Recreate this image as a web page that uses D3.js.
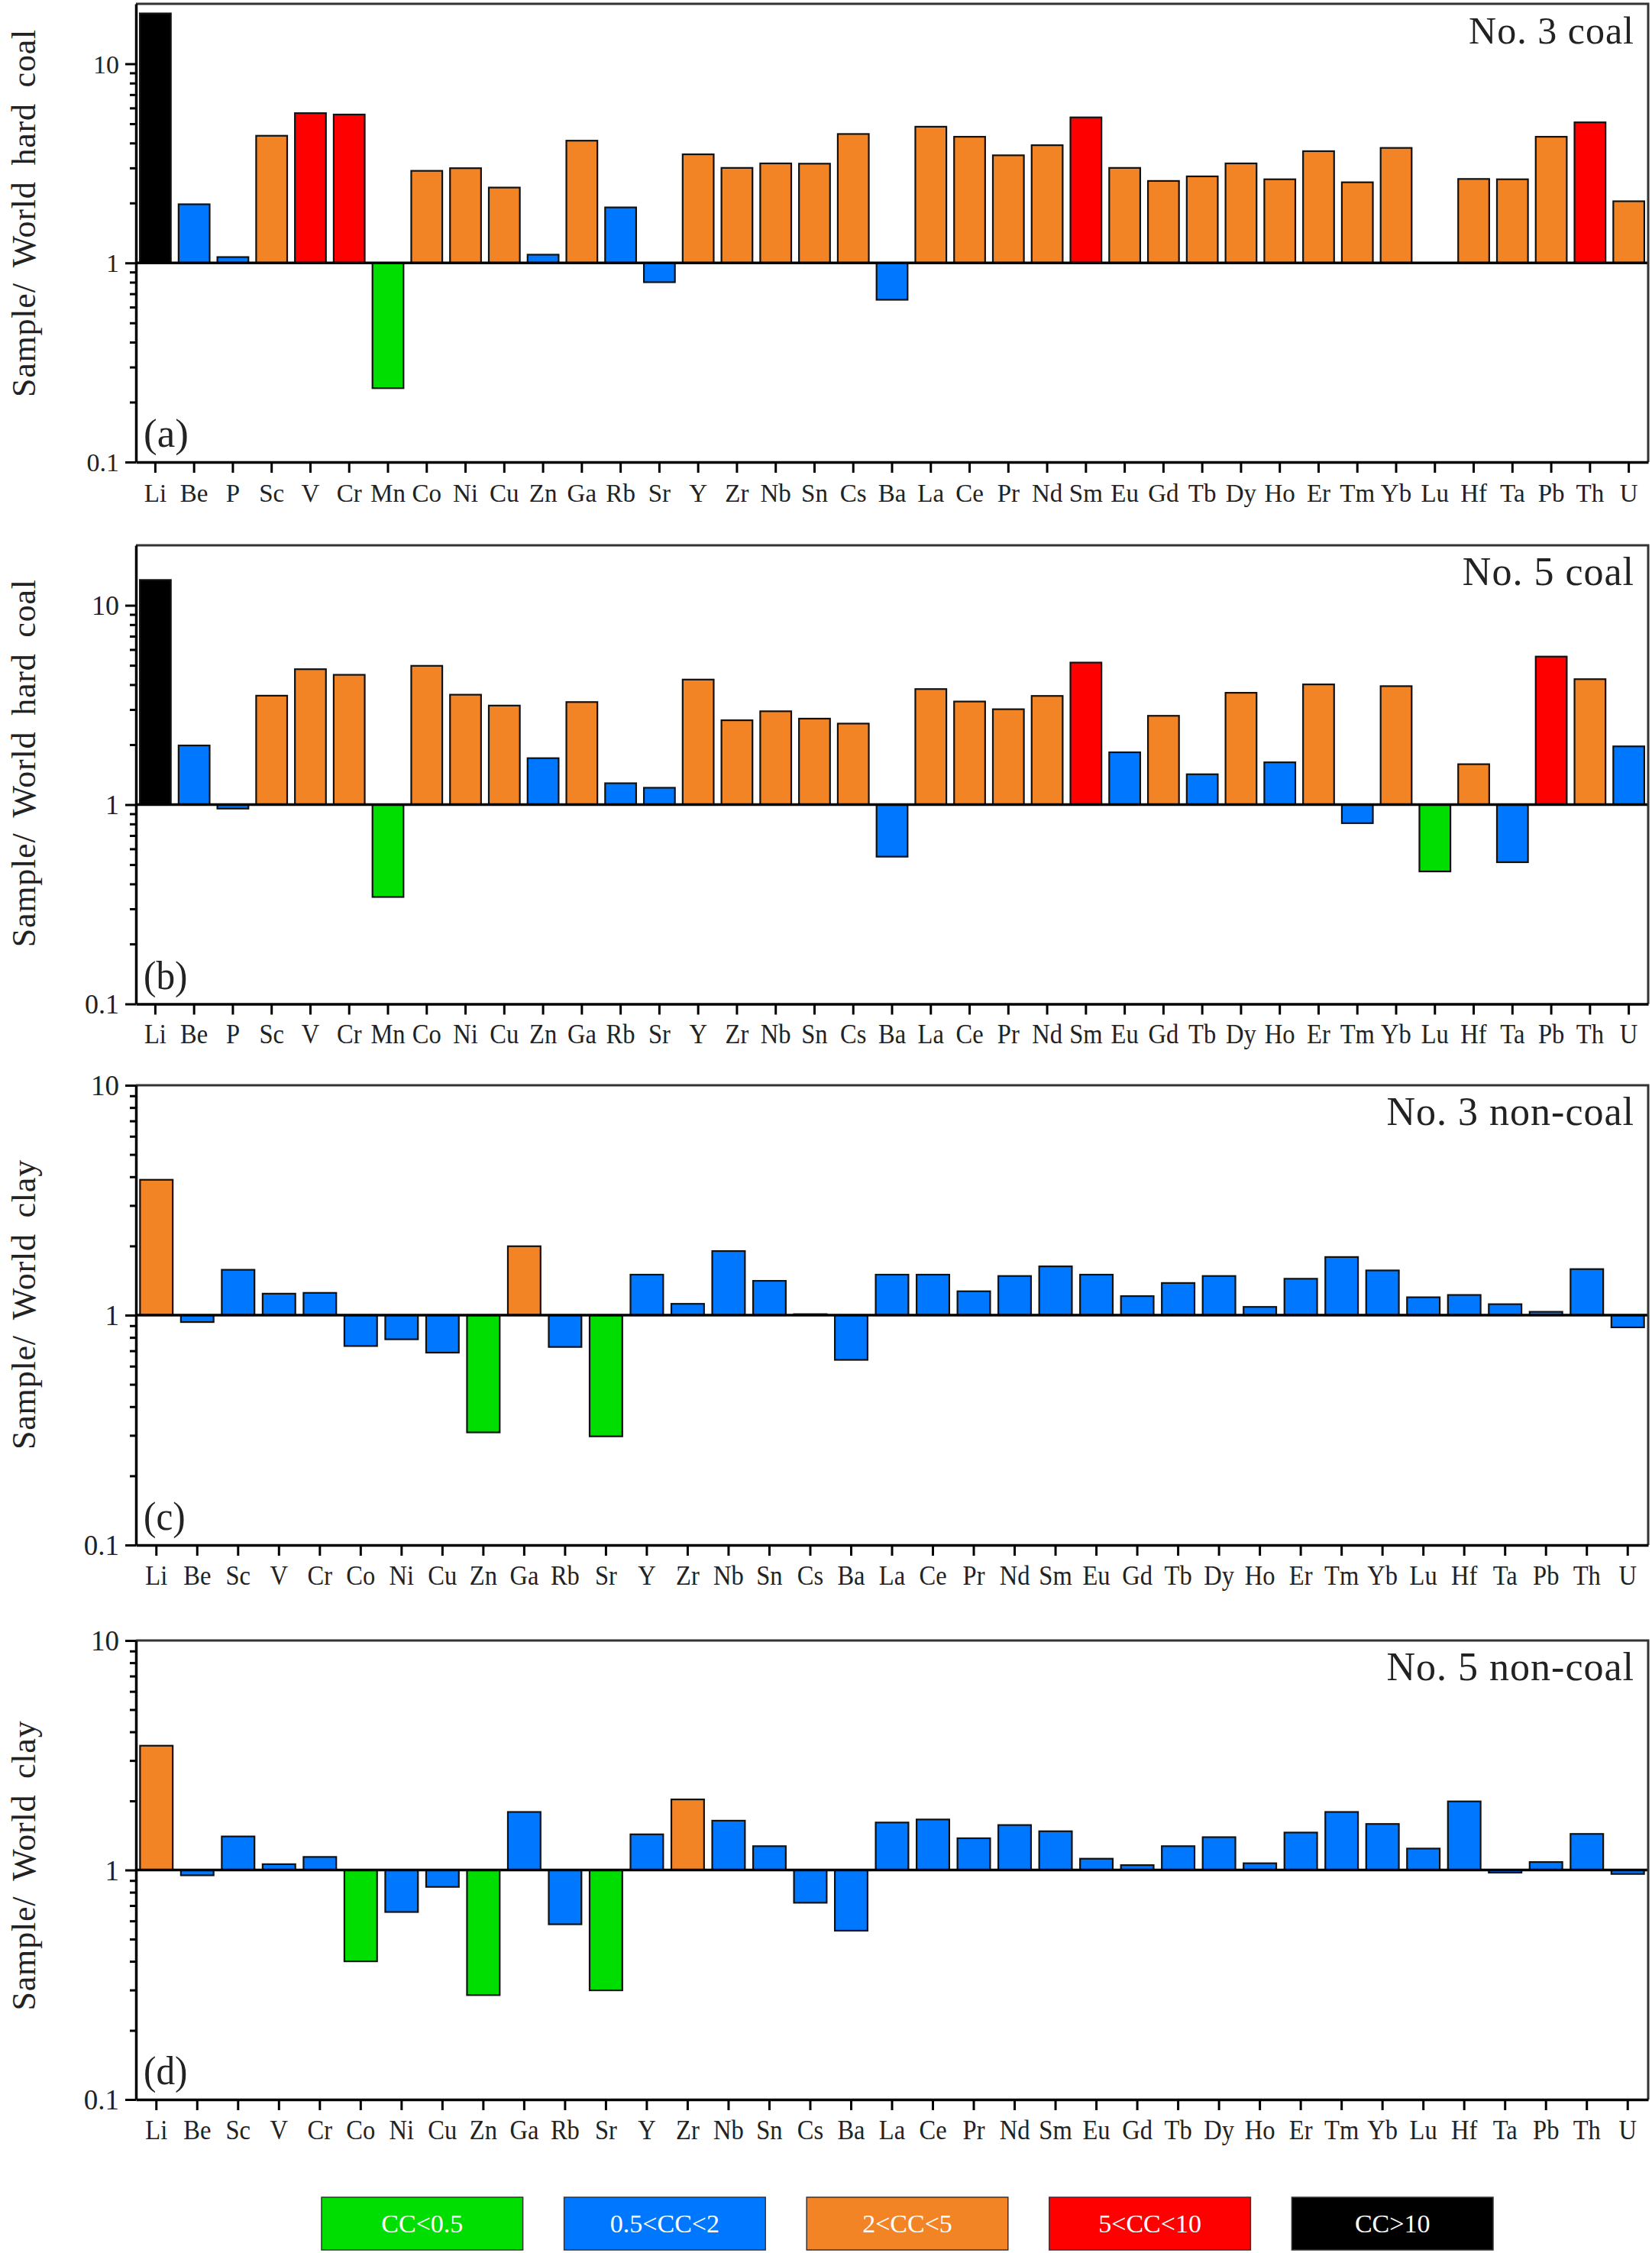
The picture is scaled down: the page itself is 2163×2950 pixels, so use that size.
<!DOCTYPE html>
<html>
<head>
<meta charset="utf-8">
<script src="https://cdn.jsdelivr.net/npm/d3@7"></script>
<style>
  body { margin: 0; background: #fff; }
  svg text { font-family: "Liberation Serif", "Times New Roman", serif; fill: #222; }
</style>
</head>
<body>
<svg id="chart" width="2163" height="2950"></svg>
<script>
// element lists for the coal and non-coal panels
const coalElements = ['Li','Be','P','Sc','V','Cr','Mn','Co','Ni','Cu','Zn','Ga','Rb','Sr','Y','Zr','Nb','Sn','Cs','Ba',
  'La','Ce','Pr','Nd','Sm','Eu','Gd','Tb','Dy','Ho','Er','Tm','Yb','Lu','Hf','Ta','Pb','Th','U'];
const clayElements = ['Li','Be','Sc','V','Cr','Co','Ni','Cu','Zn','Ga','Rb','Sr','Y','Zr','Nb','Sn','Cs','Ba',
  'La','Ce','Pr','Nd','Sm','Eu','Gd','Tb','Dy','Ho','Er','Tm','Yb','Lu','Hf','Ta','Pb','Th','U'];

// concentration coefficient classes (legend order)
const ccClasses = ['CC<0.5', '0.5<CC<2', '2<CC<5', '5<CC<10', 'CC>10'];

// (a) No. 3 coal / world hard coal
const no3Coal = [17.9, 1.97, 1.07, 4.35, 5.65, 5.56, 0.235, 2.90, 2.99, 2.39, 1.10, 4.11, 1.90, 0.80, 3.51, 3.00, 3.16, 3.15, 4.44, 0.653,
  4.83, 4.30, 3.47, 3.90, 5.38, 3.00, 2.58, 2.72, 3.16, 2.63, 3.64, 2.54, 3.78, null, 2.64, 2.63, 4.30, 5.08, 2.04];
const no3CoalClass = [4, 1, 1, 2, 3, 3, 0, 2, 2, 2, 1, 2, 1, 1, 2, 2, 2, 2, 2, 1,
  2, 2, 2, 2, 3, 2, 2, 2, 2, 2, 2, 2, 2, 2, 2, 2, 2, 3, 2];

// (b) No. 5 coal / world hard coal
const no5Coal = [13.4, 1.98, 0.955, 3.52, 4.78, 4.48, 0.344, 4.97, 3.56, 3.14, 1.71, 3.27, 1.28, 1.215, 4.24, 2.65, 2.94, 2.70, 2.55, 0.548,
  3.80, 3.29, 3.01, 3.51, 5.16, 1.83, 2.79, 1.42, 3.64, 1.63, 4.01, 0.807, 3.93, 0.462, 1.595, 0.514, 5.53, 4.26, 1.96];
const no5CoalClass = [4, 1, 1, 2, 2, 2, 0, 2, 2, 2, 1, 2, 1, 1, 2, 2, 2, 2, 2, 1,
  2, 2, 2, 2, 3, 1, 2, 1, 2, 1, 2, 1, 2, 0, 2, 1, 3, 2, 1];

// (c) No. 3 non-coal / world clay
const no3Clay = [3.88, 0.933, 1.575, 1.24, 1.25, 0.734, 0.785, 0.687, 0.309, 1.994, 0.727, 0.297, 1.50, 1.12, 1.90, 1.41, 1.01, 0.639,
  1.50, 1.50, 1.27, 1.48, 1.63, 1.50, 1.21, 1.38, 1.48, 1.086, 1.44, 1.79, 1.565, 1.196, 1.224, 1.116, 1.034, 1.586, 0.885];
const no3ClayClass = [2, 1, 1, 1, 1, 1, 1, 1, 0, 2, 1, 0, 1, 1, 1, 1, 1, 1,
  1, 1, 1, 1, 1, 1, 1, 1, 1, 1, 1, 1, 1, 1, 1, 1, 1, 1, 1];

// (d) No. 5 non-coal / world clay
const no5Clay = [3.48, 0.948, 1.40, 1.06, 1.14, 0.400, 0.656, 0.844, 0.285, 1.79, 0.580, 0.299, 1.43, 2.03, 1.64, 1.27, 0.72, 0.544,
  1.61, 1.66, 1.375, 1.57, 1.475, 1.12, 1.05, 1.27, 1.39, 1.07, 1.456, 1.79, 1.587, 1.24, 1.99, 0.974, 1.083, 1.436, 0.961];
const no5ClayClass = [2, 1, 1, 1, 1, 0, 1, 1, 0, 1, 1, 0, 1, 2, 1, 1, 1, 1,
  1, 1, 1, 1, 1, 1, 1, 1, 1, 1, 1, 1, 1, 1, 1, 1, 1, 1, 1];

const classColor = ['#00dd00', '#0077ff', '#f38426', '#ff0000', '#000000'];

const svg = d3.select('#chart');
const left = 178, right = 2158;

const panels = [
  { tag: '(a)', title: 'No. 3 coal', yTitle: 'Sample/ World hard coal', elements: coalElements, values: no3Coal, classes: no3CoalClass,
    yMax: 20, top: 5, bottom: 605, tickFont: 33, yFont: 34, titleFont: 50, sq: 1, titleShift: -26 },
  { tag: '(b)', title: 'No. 5 coal', yTitle: 'Sample/ World hard coal', elements: coalElements, values: no5Coal, classes: no5CoalClass,
    yMax: 20, top: 714, bottom: 1314.5, tickFont: 35, yFont: 36, titleFont: 52, sq: 0.93, titleShift: -15 },
  { tag: '(c)', title: 'No. 3 non-coal', yTitle: 'Sample/ World clay', elements: clayElements, values: no3Clay, classes: no3ClayClass,
    yMax: 10, top: 1421, bottom: 2023, tickFont: 35, yFont: 37, titleFont: 52, sq: 0.93, titleShift: -14 },
  { tag: '(d)', title: 'No. 5 non-coal', yTitle: 'Sample/ World clay', elements: clayElements, values: no5Clay, classes: no5ClayClass,
    yMax: 10, top: 2148, bottom: 2749, tickFont: 35, yFont: 37, titleFont: 52, sq: 0.93, titleShift: -6 }
];

panels.forEach(p => {
  let g = svg.append('g');

  let x = d3.scaleBand()
    .domain(p.elements)
    .range([left, right])
    .paddingInner(0.2)
    .paddingOuter(0.1);

  let y = d3.scaleLog()
    .domain([0.1, p.yMax])
    .range([p.bottom, p.top]);

  let rows = p.elements.map((el, i) => ({ el: el, v: p.values[i], c: p.classes[i] }))
    .filter(d => d.v != null);

  // bars grow up or down from 1
  g.selectAll('.bar')
    .data(rows)
    .enter().append('rect')
    .attr('class', 'bar')
    .attr('x', d => x(d.el))
    .attr('width', x.bandwidth())
    .attr('y', d => Math.min(y(d.v), y(1)))
    .attr('height', d => Math.abs(y(d.v) - y(1)))
    .attr('fill', d => classColor[d.c])
    .attr('stroke', '#111')
    .attr('stroke-width', 2.2);

  // reference line at 1
  g.append('line')
    .attr('x1', left).attr('x2', right)
    .attr('y1', y(1)).attr('y2', y(1))
    .attr('stroke', '#000').attr('stroke-width', 3.5);

  // top and right frame
  g.append('path')
    .attr('d', `M${left},${p.top}H${right}V${p.bottom}`)
    .attr('fill', 'none').attr('stroke', '#333').attr('stroke-width', 3);

  // y axis: majors with labels, minors without
  let allTicks = y.ticks();
  let isMajor = v => Math.abs(Math.log10(v) - Math.round(Math.log10(v))) < 1e-6;
  let majors = allTicks.filter(isMajor);
  let minors = allTicks.filter(v => !isMajor(v) && v < p.yMax);

  let yMinor = g.append('g')
    .attr('transform', `translate(${left},0)`)
    .call(d3.axisLeft(y).tickValues(minors).tickSize(8).tickFormat(''));
  yMinor.select('.domain').remove();
  yMinor.selectAll('line').attr('stroke-width', 3);

  let yAxis = g.append('g')
    .attr('transform', `translate(${left},0)`)
    .call(d3.axisLeft(y).tickValues(majors).tickSize(14).tickSizeOuter(0).tickFormat(d => String(d)));
  yAxis.select('.domain').attr('stroke-width', 3.5);
  yAxis.selectAll('line').attr('stroke-width', 3);
  yAxis.attr('font-family', null).attr('font-size', null);
  yAxis.selectAll('text')
    .attr('x', -22).attr('dy', '0.34em')
    .attr('text-anchor', 'end')
    .style('font-size', p.yFont + 'px');

  // x axis
  let xAxis = g.append('g')
    .attr('transform', `translate(0,${p.bottom})`)
    .call(d3.axisBottom(x).tickSize(14).tickSizeOuter(0));
  xAxis.select('.domain').attr('stroke-width', 3.5);
  xAxis.selectAll('line').attr('stroke-width', 3);
  xAxis.attr('font-family', null).attr('font-size', null);
  xAxis.selectAll('text')
    .attr('y', 52).attr('dy', 0)
    .attr('transform', `scale(${p.sq},1)`)
    .style('font-size', p.tickFont + 'px');

  // panel tag and sample name
  g.append('text')
    .attr('transform', `translate(188,${p.bottom - 20}) scale(${p.sq},1)`)
    .style('font-size', '53px')
    .text(p.tag);

  g.append('text')
    .attr('x', 2140)
    .attr('y', p.top + 52)
    .attr('text-anchor', 'end')
    .style('font-size', p.titleFont + 'px')
    .style('letter-spacing', '1px')
    .text(p.title);

  // y title
  g.append('text')
    .attr('transform', `translate(46,${(p.top + p.bottom) / 2 + p.titleShift}) rotate(-90)`)
    .attr('text-anchor', 'middle')
    .style('font-size', '44px')
    .style('letter-spacing', '0.8px')
    .style('word-spacing', '9px')
    .text(p.yTitle);
});

// legend
let lx = d3.scaleBand()
  .domain(ccClasses)
  .range([421, 1955])
  .paddingInner(0.17);

let legend = svg.append('g').selectAll('g')
  .data(ccClasses)
  .enter().append('g')
  .attr('transform', d => `translate(${lx(d)},2877)`);

legend.append('rect')
  .attr('width', lx.bandwidth())
  .attr('height', 69)
  .attr('fill', (d, i) => classColor[i])
  .attr('stroke', '#333')
  .attr('stroke-width', 1.5);

legend.append('text')
  .attr('x', lx.bandwidth() / 2)
  .attr('y', 46)
  .attr('text-anchor', 'middle')
  .style('font-size', '34px')
  .style('fill', '#fff')
  .text(d => d);
</script>
</body>
</html>
